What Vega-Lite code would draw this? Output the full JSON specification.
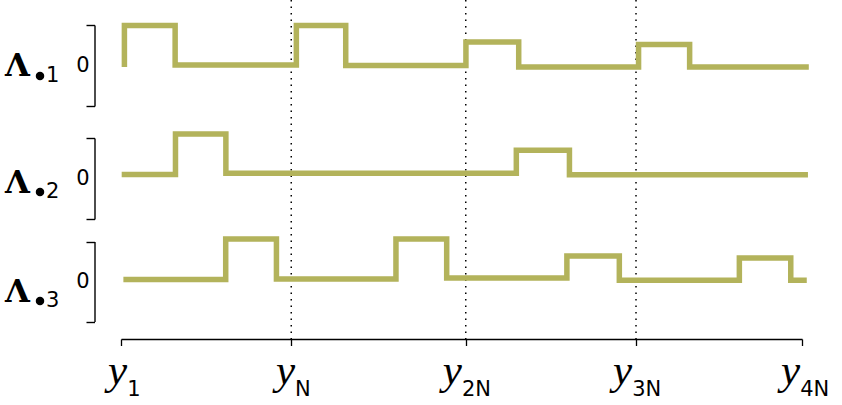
{
  "$schema": "https://vega.github.io/schema/vega-lite/v6.json",
  "width": 681,
  "height": 339,
  "autosize": "none",
  "padding": {"left": 121, "top": 0, "right": 40, "bottom": 66},
  "background": "white",
  "config": {"view": {"stroke": null}},
  "resolve": {"scale": {"y": "independent"}, "axis": {"x": "independent", "y": "independent"}},
  "layer": [
    {
      "data": {"values": [{"x": 10}, {"x": 20.25}, {"x": 30.25}]},
      "mark": {"type": "rule", "color": "black", "strokeWidth": 1.5, "strokeDash": [1.5, 5]},
      "encoding": {
        "x": {"field": "x", "type": "quantitative", "scale": {"domain": [0, 40], "nice": false, "zero": false},
          "axis": {"orient": "bottom", "title": null, "values": [0, 10, 20.25, 30.25, 40], "labelExpr": "'y'",
            "grid": false, "domain": true, "domainColor": "black", "domainWidth": 1.3,
            "ticks": true, "tickColor": "black", "tickWidth": 1.3, "tickSize": 6.5,
            "labelFont": "Liberation Serif", "labelFontStyle": "italic", "labelFontSize": 43, "labelColor": "black",
            "labelAlign": "right", "labelBaseline": "alphabetic", "labelPadding": 38, "labelOverlap": false, "labelFlush": false,
            "labelOffset": {"condition": [{"test": "datum.value == 0", "value": 5.7}, {"test": "datum.value == 10", "value": 3.3}, {"test": "datum.value == 40", "value": -2.3}], "value": -4.3}}}
      }
    },
    {
      "data": {"values": [{"x": 0.2, "v": -0.04}, {"x": 0.2, "v": 0.99}, {"x": 3.18, "v": 0.01}, {"x": 10.3, "v": 0.99}, {"x": 13.2, "v": 0.0}, {"x": 20.26, "v": 0.58}, {"x": 23.36, "v": -0.04}, {"x": 30.4, "v": 0.52}, {"x": 33.4, "v": -0.04}, {"x": 40.4, "v": -0.04}]},
      "mark": {"type": "line", "interpolate": "step-after", "color": "#b3b35b", "strokeWidth": 5.5, "strokeJoin": "miter", "strokeCap": "butt", "clip": false},
      "encoding": {
        "x": {"field": "x", "type": "quantitative", "scale": {"domain": [0, 40], "nice": false, "zero": false},
          "axis": {"orient": "bottom", "title": null, "values": [0, 10, 20.25, 30.25, 40],
            "labelExpr": "datum.value == 0 ? '1' : datum.value == 10 ? 'N' : datum.value == 20.25 ? '2N' : datum.value == 30.25 ? '3N' : '4N'",
            "grid": false, "domain": false, "ticks": false,
            "labelFont": "DejaVu Sans", "labelFontSize": 21, "labelColor": "black",
            "labelAlign": "left", "labelBaseline": "alphabetic", "labelPadding": 56, "labelOverlap": false, "labelFlush": false,
            "labelOffset": {"condition": [{"test": "datum.value == 0", "value": 5.7}, {"test": "datum.value == 10", "value": 3.3}, {"test": "datum.value == 40", "value": -2.3}], "value": -4.3}}},
        "y": {"field": "v", "type": "quantitative", "scale": {"domain": [-1, 1], "range": [106, 25], "nice": false, "zero": false},
          "axis": {"orient": "left", "offset": 26.5, "values": [-1, 0, 1], "labelExpr": "datum.value == 0 ? '0' : ''",
            "grid": false, "domain": true, "domainColor": "black", "domainWidth": 1.4,
            "ticks": true, "tickColor": "black", "tickWidth": 1.4, "tickSize": 8.5,
            "tickOpacity": {"condition": {"test": "datum.value == 0", "value": 0}, "value": 1},
            "labelFont": "DejaVu Sans", "labelFontSize": 21, "labelColor": "black", "labelPadding": -3, "labelAlign": "right", "labelBaseline": "middle",
            "title": "Λ", "titleAngle": 0, "titleFont": "DejaVu Serif", "titleFontWeight": "bold", "titleFontSize": 32, "titleColor": "black",
            "titleAlign": "left", "titleBaseline": "alphabetic", "titleX": -90, "titleY": 75.5}}
      }
    },
    {
      "data": {"values": [{"x": 0.04, "v": 0.1}, {"x": 3.2, "v": 1.1}, {"x": 6.16, "v": 0.13}, {"x": 23.22, "v": 0.7}, {"x": 26.34, "v": 0.09}, {"x": 40.35, "v": 0.09}]},
      "mark": {"type": "line", "interpolate": "step-after", "color": "#b3b35b", "strokeWidth": 5.5, "strokeJoin": "miter", "strokeCap": "butt", "clip": false},
      "encoding": {
        "x": {"field": "x", "type": "quantitative", "axis": null},
        "y": {"field": "v", "type": "quantitative", "scale": {"domain": [-1, 1], "range": [219, 138], "nice": false, "zero": false},
          "axis": {"orient": "left", "offset": 26.5, "values": [-1, 0, 1], "labelExpr": "datum.value == 0 ? '0' : ''",
            "grid": false, "domain": true, "domainColor": "black", "domainWidth": 1.4,
            "ticks": true, "tickColor": "black", "tickWidth": 1.4, "tickSize": 8.5,
            "tickOpacity": {"condition": {"test": "datum.value == 0", "value": 0}, "value": 1},
            "labelFont": "DejaVu Sans", "labelFontSize": 21, "labelColor": "black", "labelPadding": -3, "labelAlign": "right", "labelBaseline": "middle",
            "title": "Λ", "titleAngle": 0, "titleFont": "DejaVu Serif", "titleFontWeight": "bold", "titleFontSize": 32, "titleColor": "black",
            "titleAlign": "left", "titleBaseline": "alphabetic", "titleX": -90, "titleY": 192}}
      }
    },
    {
      "data": {"values": [{"x": 0.14, "v": 0.05}, {"x": 6.15, "v": 1.06}, {"x": 9.13, "v": 0.06}, {"x": 16.15, "v": 1.06}, {"x": 19.13, "v": 0.09}, {"x": 26.19, "v": 0.64}, {"x": 29.27, "v": 0.03}, {"x": 36.32, "v": 0.59}, {"x": 39.34, "v": 0.03}, {"x": 40.28, "v": 0.03}]},
      "mark": {"type": "line", "interpolate": "step-after", "color": "#b3b35b", "strokeWidth": 5.5, "strokeJoin": "miter", "strokeCap": "butt", "clip": false},
      "encoding": {
        "x": {"field": "x", "type": "quantitative", "axis": null},
        "y": {"field": "v", "type": "quantitative", "scale": {"domain": [-1, 1], "range": [321.5, 241.5], "nice": false, "zero": false},
          "axis": {"orient": "left", "offset": 26.5, "values": [-1, 0, 1], "labelExpr": "datum.value == 0 ? '0' : ''",
            "grid": false, "domain": true, "domainColor": "black", "domainWidth": 1.4,
            "ticks": true, "tickColor": "black", "tickWidth": 1.4, "tickSize": 8.5,
            "tickOpacity": {"condition": {"test": "datum.value == 0", "value": 0}, "value": 1},
            "labelFont": "DejaVu Sans", "labelFontSize": 21, "labelColor": "black", "labelPadding": -3, "labelAlign": "right", "labelBaseline": "middle",
            "title": "Λ", "titleAngle": 0, "titleFont": "DejaVu Serif", "titleFontWeight": "bold", "titleFontSize": 32, "titleColor": "black",
            "titleAlign": "left", "titleBaseline": "alphabetic", "titleX": -90, "titleY": 301}}
      }
    },
    {
      "data": {"values": [{"sub": "1"}]},
      "mark": {"type": "point", "shape": "circle", "filled": true, "color": "black", "opacity": 1, "size": 72, "xOffset": -81, "yOffset": 10.5, "clip": false},
      "encoding": {
        "x": {"datum": 0, "type": "quantitative", "axis": null},
        "y": {"datum": 0, "type": "quantitative", "scale": {"domain": [-1, 1], "range": [106, 25], "nice": false, "zero": false}, "axis": null}
      }
    },
    {
      "data": {"values": [{"sub": "1"}]},
      "mark": {"type": "text", "font": "DejaVu Sans", "fontSize": 21, "color": "black", "align": "left", "baseline": "alphabetic", "dx": -75, "dy": 16, "clip": false},
      "encoding": {
        "x": {"datum": 0, "type": "quantitative", "axis": null},
        "y": {"datum": 0, "type": "quantitative", "scale": {"domain": [-1, 1], "range": [106, 25], "nice": false, "zero": false}, "axis": null},
        "text": {"field": "sub"}
      }
    },
    {
      "data": {"values": [{"sub": "2"}]},
      "mark": {"type": "point", "shape": "circle", "filled": true, "color": "black", "opacity": 1, "size": 72, "xOffset": -81, "yOffset": 13.5, "clip": false},
      "encoding": {
        "x": {"datum": 0, "type": "quantitative", "axis": null},
        "y": {"datum": 0, "type": "quantitative", "scale": {"domain": [-1, 1], "range": [219, 138], "nice": false, "zero": false}, "axis": null}
      }
    },
    {
      "data": {"values": [{"sub": "2"}]},
      "mark": {"type": "text", "font": "DejaVu Sans", "fontSize": 21, "color": "black", "align": "left", "baseline": "alphabetic", "dx": -75, "dy": 19.5, "clip": false},
      "encoding": {
        "x": {"datum": 0, "type": "quantitative", "axis": null},
        "y": {"datum": 0, "type": "quantitative", "scale": {"domain": [-1, 1], "range": [219, 138], "nice": false, "zero": false}, "axis": null},
        "text": {"field": "sub"}
      }
    },
    {
      "data": {"values": [{"sub": "3"}]},
      "mark": {"type": "point", "shape": "circle", "filled": true, "color": "black", "opacity": 1, "size": 72, "xOffset": -81, "yOffset": 19.5, "clip": false},
      "encoding": {
        "x": {"datum": 0, "type": "quantitative", "axis": null},
        "y": {"datum": 0, "type": "quantitative", "scale": {"domain": [-1, 1], "range": [321.5, 241.5], "nice": false, "zero": false}, "axis": null}
      }
    },
    {
      "data": {"values": [{"sub": "3"}]},
      "mark": {"type": "text", "font": "DejaVu Sans", "fontSize": 21, "color": "black", "align": "left", "baseline": "alphabetic", "dx": -75, "dy": 25.5, "clip": false},
      "encoding": {
        "x": {"datum": 0, "type": "quantitative", "axis": null},
        "y": {"datum": 0, "type": "quantitative", "scale": {"domain": [-1, 1], "range": [321.5, 241.5], "nice": false, "zero": false}, "axis": null},
        "text": {"field": "sub"}
      }
    }
  ]
}
